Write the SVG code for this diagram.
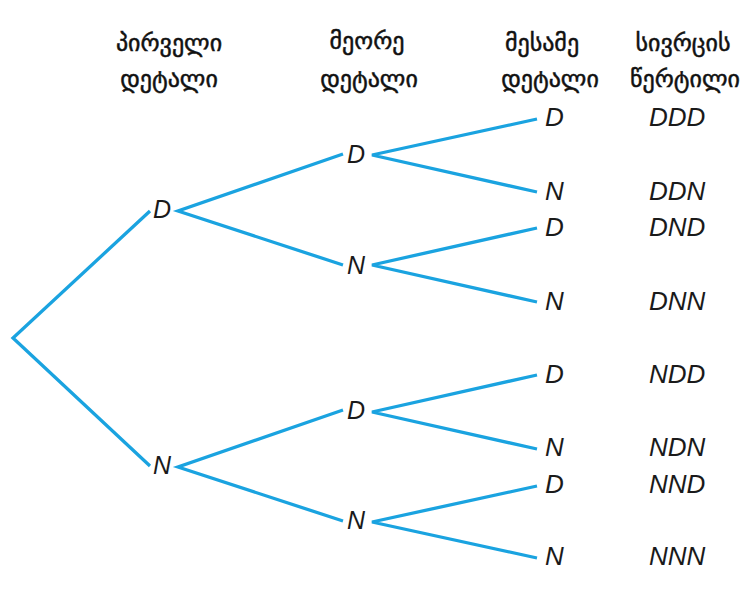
<svg xmlns="http://www.w3.org/2000/svg" width="751" height="600" viewBox="0 0 751 600">
<style>
.e{stroke:#1aa3e0;stroke-width:3.3;fill:none;stroke-linecap:butt}
.h{font-family:"DejaVu Sans","Noto Sans",sans-serif;font-size:24px;fill:#111;stroke:#111;stroke-width:0.5;text-anchor:middle}
.l{font-family:"Liberation Sans",Arial,sans-serif;font-style:italic;font-size:25px;fill:#1a1a1a}
.r{font-family:"Liberation Sans",Arial,sans-serif;font-style:italic;font-size:26px;fill:#1a1a1a}
</style>
<rect width="751" height="600" fill="#fff"/>
<g id="headers">
<text class="h" x="169" y="51">პირველი</text>
<text class="h" x="169" y="87">დეტალი</text>
<text class="h" x="367" y="49">მეორე</text>
<text class="h" x="369" y="87">დეტალი</text>
<text class="h" x="542" y="51">მესამე</text>
<text class="h" x="550" y="87">დეტალი</text>
<text class="h" x="683" y="51">სივრცის</text>
<text class="h" x="685" y="87">წერტილი</text>
</g>
<g id="connectors">
<path class="e" d="M150,211 L13,338 L150,466"/>
<path class="e" d="M343,154 L178,211 L343,265"/>
<path class="e" d="M343,410 L178,467 L343,521"/>
<path class="e" d="M537,119 L372,155 L537,192"/>
<path class="e" d="M537,228 L372,265 L537,302"/>
<path class="e" d="M537,375 L372,412 L537,449"/>
<path class="e" d="M537,486 L372,522 L537,558"/>
</g>
<g id="n-D"><text class="l" x="153" y="218">D</text></g>
<g id="n-N"><text class="l" x="153" y="474">N</text></g>
<g id="n-DD"><text class="l" x="347" y="163">D</text></g>
<g id="n-DN"><text class="l" x="347" y="274">N</text></g>
<g id="n-ND"><text class="l" x="347" y="419">D</text></g>
<g id="n-NN"><text class="l" x="347" y="529">N</text></g>
<g id="n-DDD"><text class="r" x="545" y="126">D</text><text class="r" x="649" y="126">DDD</text></g>
<g id="n-DDN"><text class="r" x="545" y="200">N</text><text class="r" x="649" y="200">DDN</text></g>
<g id="n-DND"><text class="r" x="545" y="236">D</text><text class="r" x="649" y="236">DND</text></g>
<g id="n-DNN"><text class="r" x="545" y="310">N</text><text class="r" x="649" y="310">DNN</text></g>
<g id="n-NDD"><text class="r" x="545" y="383">D</text><text class="r" x="649" y="383">NDD</text></g>
<g id="n-NDN"><text class="r" x="545" y="456">N</text><text class="r" x="649" y="456">NDN</text></g>
<g id="n-NND"><text class="r" x="545" y="493">D</text><text class="r" x="649" y="493">NND</text></g>
<g id="n-NNN"><text class="r" x="545" y="565">N</text><text class="r" x="649" y="565">NNN</text></g>
</svg>
